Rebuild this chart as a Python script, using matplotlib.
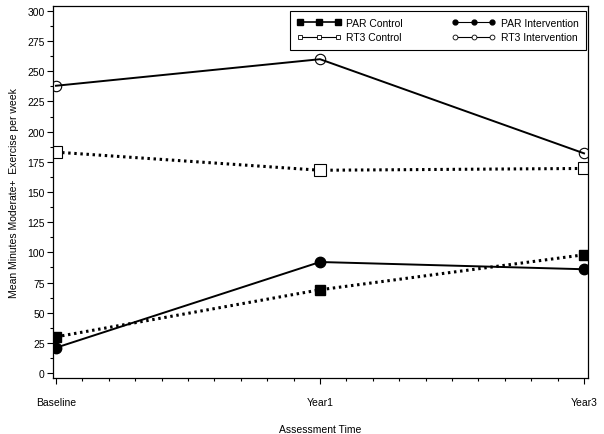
import numpy as np
import matplotlib.pyplot as plt
from matplotlib.lines import Line2D
from matplotlib.ticker import MultipleLocator

plt.rcParams['font.family'] = ['Liberation Sans', 'DejaVu Sans']

times = ['Baseline', 'Year1', 'Year3']
par_control = [30, 69, 98]
rt3_control = [183, 168, 169.5]
par_intervention = [21, 92, 86]
rt3_intervention = [238, 260, 182]

x = np.arange(len(times))
dotted = (0, (0.8, 1.2))

fig = plt.figure(figsize=(6.04, 4.35), dpi=100)
ax = fig.add_axes([0.0877, 0.1287, 0.8858, 0.8553])

ax.plot(x, par_control, color='black', lw=2.2, ls=dotted,
        marker='s', ms=7, mfc='black', mec='black')
ax.plot(x, rt3_control, color='black', lw=2.2, ls=dotted,
        marker='s', ms=8, mfc='white', mec='black', mew=0.8)
ax.plot(x, par_intervention, color='black', lw=1.4,
        marker='o', ms=7.5, mfc='black', mec='black')
ax.plot(x, rt3_intervention, color='black', lw=1.4,
        marker='o', ms=7.5, mfc='none', mec='black', mew=0.8)

ax.set_xlim(-0.0114, 2.015)
ax.set_ylim(-4.1, 304.1)
ax.set_xticks(x)
ax.set_xticklabels(times)
ax.xaxis.set_minor_locator(MultipleLocator(0.1))
ax.set_yticks(np.arange(0, 301, 25))
ax.yaxis.set_minor_locator(MultipleLocator(12.5))
ax.tick_params(which='major', length=4, width=0.8, labelsize=7.5, pad=2)
ax.tick_params(which='minor', length=2.5, width=0.8)
ax.tick_params(axis='x', which='major', pad=10)

ax.set_xlabel('Assessment Time', fontsize=7.5, labelpad=12)
ax.set_ylabel('Mean Minutes Moderate+  Exercise per week', fontsize=7.5, labelpad=6)

for s in ax.spines.values():
    s.set_linewidth(0.9)

handles = [
    Line2D([], [], color='black', lw=1.2, marker='s', ms=5, mfc='black'),
    Line2D([], [], color='black', lw=0.8, marker='s', ms=3.5, mfc='white', mew=0.6),
    Line2D([], [], color='black', lw=0.8, marker='o', ms=3.5, mfc='black'),
    Line2D([], [], color='black', lw=0.8, marker='o', ms=3.5, mfc='white', mew=0.6),
]
labels = ['PAR Control', 'RT3 Control', 'PAR Intervention', 'RT3 Intervention']
leg = ax.legend(handles, labels, ncol=2, loc='upper left',
                bbox_to_anchor=(0.443, 0.884, 0.553, 0.103), mode='expand',
                numpoints=3, handlelength=4.2, handletextpad=0.5,
                fontsize=7.5, fancybox=False, borderaxespad=0,
                borderpad=0.7, labelspacing=0.4, framealpha=1)
leg.get_frame().set_edgecolor('black')
leg.get_frame().set_linewidth(0.8)

fig.savefig('out.png', dpi=100)
